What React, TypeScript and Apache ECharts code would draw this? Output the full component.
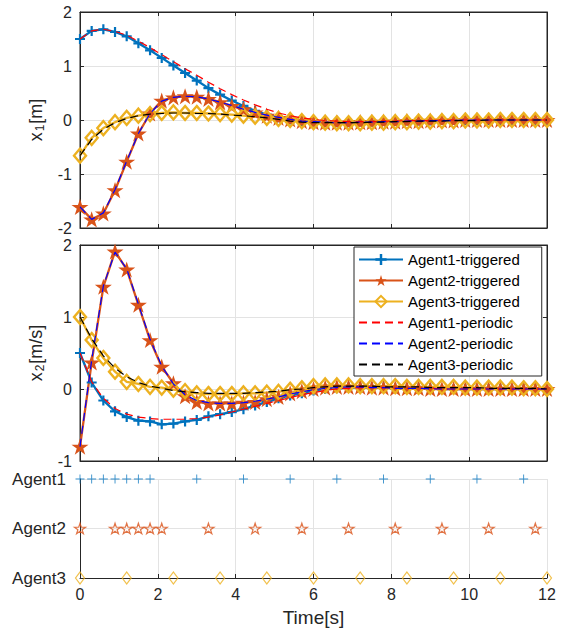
import React, { useEffect, useRef } from 'react';
import * as echarts from 'echarts';

const time = [0, 0.3, 0.6, 0.9, 1.2, 1.5, 1.8, 2.1, 2.4, 2.7, 3.0, 3.3, 3.6, 3.9, 4.2, 4.5, 4.8, 5.1, 5.4, 5.7, 6.0, 6.3, 6.6, 6.9, 7.2, 7.5, 7.8, 8.1, 8.4, 8.7, 9.0, 9.3, 9.6, 9.9, 10.2, 10.5, 10.8, 11.1, 11.4, 11.7, 12.0];

const a1x1Trig = [1.50, 1.65, 1.68, 1.63, 1.55, 1.42, 1.29, 1.15, 1.01, 0.87, 0.73, 0.59, 0.47, 0.36, 0.26, 0.17, 0.10, 0.05, 0.01, -0.02, -0.03, -0.04, -0.04, -0.04, -0.03, -0.03, -0.02, -0.02, -0.01, -0.01, -0.01, 0, 0, 0, 0, 0, 0, 0, 0, 0, 0];
const a2x1Trig = [-1.61, -1.84, -1.73, -1.30, -0.77, -0.25, 0.12, 0.36, 0.42, 0.44, 0.43, 0.39, 0.33, 0.26, 0.20, 0.14, 0.08, 0.04, 0.01, -0.02, -0.04, -0.05, -0.05, -0.05, -0.04, -0.04, -0.03, -0.03, -0.02, -0.02, -0.01, -0.01, -0.01, 0, 0, 0, 0, 0, 0, 0, 0];
const a3x1Trig = [-0.66, -0.33, -0.15, -0.04, 0.04, 0.08, 0.11, 0.13, 0.14, 0.13, 0.13, 0.12, 0.11, 0.10, 0.08, 0.06, 0.04, 0.02, 0.00, -0.02, -0.04, -0.05, -0.06, -0.06, -0.06, -0.05, -0.05, -0.04, -0.04, -0.03, -0.03, -0.02, -0.02, -0.01, -0.01, -0.01, 0, 0, 0, 0, 0];
const a1x1Per = [1.50, 1.65, 1.68, 1.64, 1.57, 1.46, 1.34, 1.21, 1.08, 0.95, 0.83, 0.70, 0.58, 0.47, 0.37, 0.28, 0.20, 0.13, 0.08, 0.04, 0.01, -0.01, -0.02, -0.03, -0.03, -0.03, -0.02, -0.02, -0.01, -0.01, -0.01, 0, 0, 0, 0, 0, 0, 0, 0, 0, 0];
const a2x1Per = [-1.61, -1.84, -1.72, -1.29, -0.76, -0.25, 0.12, 0.35, 0.42, 0.44, 0.43, 0.39, 0.33, 0.27, 0.20, 0.14, 0.09, 0.05, 0.01, -0.02, -0.03, -0.04, -0.05, -0.05, -0.04, -0.04, -0.03, -0.03, -0.02, -0.02, -0.01, -0.01, -0.01, 0, 0, 0, 0, 0, 0, 0, 0];
const a3x1Per = [-0.66, -0.36, -0.17, -0.05, 0.03, 0.08, 0.11, 0.12, 0.13, 0.13, 0.12, 0.12, 0.11, 0.09, 0.08, 0.06, 0.04, 0.01, -0.02, -0.04, -0.05, -0.05, -0.05, -0.05, -0.05, -0.04, -0.04, -0.03, -0.03, -0.02, -0.02, -0.02, -0.01, -0.01, -0.01, 0, 0, 0, 0, 0, 0];

const a1x2Trig = [0.50, 0.09, -0.16, -0.31, -0.39, -0.44, -0.45, -0.49, -0.48, -0.45, -0.43, -0.38, -0.35, -0.32, -0.28, -0.23, -0.18, -0.13, -0.09, -0.06, -0.02, 0.00, 0.01, 0.02, 0.02, 0.02, 0.02, 0.01, 0.01, 0.01, 0.01, 0, 0, 0, 0, 0, 0, 0, 0, 0, 0];
const a2x2Trig = [-0.80, 0.37, 1.42, 1.91, 1.66, 1.17, 0.68, 0.31, 0.08, -0.10, -0.18, -0.20, -0.20, -0.20, -0.19, -0.18, -0.14, -0.11, -0.06, -0.03, 0.00, 0.02, 0.03, 0.03, 0.03, 0.02, 0.02, 0.01, 0.01, 0.01, 0, 0, 0, 0, 0, 0, 0, 0, 0, 0, 0];
const a3x2Trig = [1.00, 0.68, 0.43, 0.24, 0.10, 0.07, 0.03, 0.02, -0.01, -0.03, -0.06, -0.07, -0.07, -0.07, -0.06, -0.06, -0.05, -0.04, -0.01, 0.01, 0.04, 0.05, 0.05, 0.05, 0.04, 0.04, 0.04, 0.04, 0.03, 0.03, 0.03, 0.03, 0.03, 0.02, 0.02, 0.02, 0.02, 0.02, 0.01, 0.01, 0.00];
const a1x2Per = [0.50, 0.10, -0.13, -0.27, -0.35, -0.39, -0.41, -0.42, -0.42, -0.42, -0.41, -0.39, -0.36, -0.32, -0.28, -0.24, -0.20, -0.16, -0.12, -0.08, -0.05, -0.02, 0.00, 0.01, 0.02, 0.02, 0.02, 0.01, 0.01, 0.01, 0.01, 0, 0, 0, 0, 0, 0, 0, 0, 0, 0];
const a2x2Per = [-0.80, 0.40, 1.43, 1.90, 1.67, 1.18, 0.69, 0.32, 0.07, -0.08, -0.16, -0.19, -0.20, -0.20, -0.19, -0.17, -0.14, -0.11, -0.07, -0.04, -0.01, 0.01, 0.02, 0.03, 0.03, 0.02, 0.02, 0.01, 0.01, 0.01, 0, 0, 0, 0, 0, 0, 0, 0, 0, 0, 0];
const a3x2Per = [1.00, 0.70, 0.46, 0.29, 0.17, 0.09, 0.04, 0.01, -0.02, -0.04, -0.05, -0.06, -0.06, -0.06, -0.06, -0.05, -0.04, -0.03, -0.01, 0.00, 0.02, 0.03, 0.04, 0.04, 0.04, 0.04, 0.03, 0.03, 0.03, 0.03, 0.02, 0.02, 0.02, 0.02, 0.02, 0.01, 0.01, 0.01, 0.01, 0.01, 0.00];

const agent1Events = [0, 0.3, 0.6, 0.9, 1.2, 1.5, 1.8, 3.0, 4.2, 5.4, 6.6, 7.8, 9.0, 10.2, 11.4];
const agent2Events = [0, 0.9, 1.2, 1.5, 1.8, 2.1, 3.3, 4.5, 5.7, 6.9, 8.1, 9.3, 10.5, 11.7];
const agent3Events = [0, 1.2, 2.4, 3.6, 4.8, 6.0, 7.2, 8.4, 9.6, 10.8, 12.0];
const agentLabels = ['Agent1', 'Agent2', 'Agent3'];

const legendNames = ['Agent1-triggered', 'Agent2-triggered', 'Agent3-triggered', 'Agent1-periodic', 'Agent2-periodic', 'Agent3-periodic'];

const C1 = '#0072BD';
const C2 = '#D95319';
const C3 = '#EDB120';
const TXT = '#262626';
const GRIDC = '#e3e3e3';
const FONT = '"Liberation Sans", Arial, Helvetica, sans-serif';
const DASH = [8, 5];

const PLUS_BOLD = 'path://M3.9,0H6.1V3.9H10V6.1H6.1V10H3.9V6.1H0V3.9H3.9Z';
const PLUS_THIN = 'path://M4.5,0H5.5V4.5H10V5.5H5.5V10H4.5V5.5H0V4.5H4.5Z';
const STAR = 'path://M50,0L61.23,34.55L97.55,34.55L68.17,55.9L79.39,90.45L50,69.1L20.61,90.45L31.83,55.9L2.45,34.55L38.77,34.55Z';

const pair = (arr: number[]) => time.map((t, i) => [t, arr[i]]);

export default function App() {
  const ref = useRef<HTMLDivElement>(null);
  useEffect(() => {
    if (!ref.current) return;
    const chart = echarts.init(ref.current, undefined, { renderer: 'svg' });

    const grids = [
      { left: 80, top: 12, width: 467, height: 216 },
      { left: 80, top: 245, width: 467, height: 216 },
      { left: 80, top: 479, width: 467, height: 99 },
    ];

    const boxX = (gi: number, pos: 'bottom' | 'top', withSplit: boolean) => ({
      type: 'value', gridIndex: gi, position: pos, min: 0, max: 12, interval: 2,
      axisLine: { show: true, onZero: false, lineStyle: { color: TXT, width: 1 } },
      axisTick: { show: true, inside: true, length: 4, lineStyle: { color: TXT } },
      axisLabel: { show: false },
      splitLine: { show: withSplit, lineStyle: { color: GRIDC, width: 1 } },
    });
    const boxY = (gi: number, pos: 'left' | 'right', min: number, max: number, withLabel: boolean, name?: string) => ({
      type: 'value', gridIndex: gi, position: pos, min, max, interval: 1,
      axisLine: { show: true, onZero: false, lineStyle: { color: TXT, width: 1 } },
      axisTick: { show: true, inside: true, length: 4, lineStyle: { color: TXT } },
      axisLabel: { show: withLabel, color: TXT, fontSize: 16, fontFamily: FONT, margin: 8 },
      splitLine: { show: withLabel, lineStyle: { color: GRIDC, width: 1 } },
      name: name || '',
      nameLocation: 'middle',
      nameGap: 34,
      nameRotate: 90,
      nameTextStyle: {
        color: TXT, fontSize: 18, fontFamily: FONT,
        rich: {
          a: { color: TXT, fontSize: 18, fontFamily: FONT, lineHeight: 21 },
          s: { color: TXT, fontSize: 12, fontFamily: FONT, lineHeight: 21, verticalAlign: 'bottom', padding: [0, 1, 0, 1] },
        },
      },
    });

    const trig = (name: string, arr: number[], xi: number, yi: number, color: string, kind: number) => {
      const base: any = {
        name, type: 'line', xAxisIndex: xi, yAxisIndex: yi, data: pair(arr),
        lineStyle: { color, width: 2.3 }, showSymbol: true, symbolKeepAspect: true, z: 2,
        emphasis: { disabled: true },
      };
      if (kind === 1) {
        base.symbol = PLUS_BOLD; base.symbolSize = 10;
        base.itemStyle = { color, borderWidth: 0 };
      } else if (kind === 2) {
        base.symbol = STAR; base.symbolSize = 17;
        base.itemStyle = { color, borderWidth: 0 };
      } else {
        base.symbol = 'diamond'; base.symbolSize = [12, 14];
        base.symbolKeepAspect = false;
        base.itemStyle = { color: 'rgba(255,255,255,0)', borderColor: color, borderWidth: 2.4 };
      }
      return base;
    };
    const per = (name: string, arr: number[], xi: number, yi: number, color: string) => ({
      name, type: 'line', xAxisIndex: xi, yAxisIndex: yi, data: pair(arr),
      symbol: 'none', showSymbol: false,
      lineStyle: { color, width: 1.2, type: DASH },
      itemStyle: { color },
      z: 3, emphasis: { disabled: true },
    });

    const events = (name: string, ev: number[], row: number, symbol: string, size: any, color: string, hollow: boolean) => ({
      name, type: 'scatter', xAxisIndex: 4, yAxisIndex: 4,
      data: ev.map((t) => [t, row]),
      symbol, symbolSize: size, symbolKeepAspect: true,
      itemStyle: hollow
        ? { color: 'rgba(255,255,255,0)', borderColor: color, borderWidth: 1.2 }
        : { color, borderWidth: 0 },
      z: 4, emphasis: { disabled: true },
    });

    const legendData = legendNames.map((n, i) =>
      i < 3 ? { name: n } : { name: n, itemStyle: { opacity: 0 } }
    );

    const option: any = {
      animation: false,
      backgroundColor: '#ffffff',
      textStyle: { fontFamily: FONT },
      grid: grids.map((g, i) => ({ ...g, show: i < 2, borderColor: TXT, borderWidth: 1, backgroundColor: 'transparent' })),
      legend: {
        orient: 'vertical', left: 354, top: 247,
        itemWidth: 44, itemHeight: 14, itemGap: 6,
        padding: [5, 22, 4, 4],
        borderColor: TXT, borderWidth: 1, backgroundColor: '#ffffff',
        textStyle: { fontSize: 15, color: '#000', fontFamily: FONT },
        selectedMode: false,
        data: legendData,
        z: 10,
      },
      xAxis: [
        boxX(0, 'bottom', true),
        boxX(0, 'top', false),
        boxX(1, 'bottom', true),
        boxX(1, 'top', false),
        {
          type: 'value', gridIndex: 2, position: 'bottom', min: 0, max: 12, interval: 2,
          axisLine: { show: true, onZero: false, lineStyle: { color: TXT, width: 1 } },
          axisTick: { show: true, inside: true, length: 4, lineStyle: { color: TXT } },
          axisLabel: { show: true, color: TXT, fontSize: 16, fontFamily: FONT, margin: 8 },
          splitLine: { show: true, lineStyle: { color: GRIDC, width: 1 } },
          name: 'Time[s]', nameLocation: 'middle', nameGap: 30,
          nameTextStyle: { color: TXT, fontSize: 19, fontFamily: FONT },
        },
      ],
      yAxis: [
        boxY(0, 'left', -2, 2, true, '{a|x}{s|1}{a|[m]}'),
        boxY(0, 'right', -2, 2, false),
        boxY(1, 'left', -1, 2, true, '{a|x}{s|2}{a|[m/s]}'),
        boxY(1, 'right', -1, 2, false),
        {
          type: 'value', gridIndex: 2, min: 1, max: 3, interval: 1, inverse: true,
          axisLine: { show: true, onZero: false, lineStyle: { color: TXT, width: 1 } },
          axisTick: { show: false },
          axisLabel: {
            show: true, color: TXT, fontSize: 17, fontFamily: FONT, margin: 14,
            formatter: (v: number) => agentLabels[Math.round(v) - 1] || '',
          },
          splitLine: { show: true, lineStyle: { color: GRIDC, width: 1 } },
        },
      ],
      series: [
        trig('Agent1-triggered', a1x1Trig, 0, 0, C1, 1),
        trig('Agent2-triggered', a2x1Trig, 0, 0, C2, 2),
        trig('Agent3-triggered', a3x1Trig, 0, 0, C3, 3),
        per('Agent1-periodic', a1x1Per, 0, 0, '#FF0000'),
        per('Agent2-periodic', a2x1Per, 0, 0, '#0000FF'),
        per('Agent3-periodic', a3x1Per, 0, 0, '#000000'),
        trig('Agent1-triggered', a1x2Trig, 2, 2, C1, 1),
        trig('Agent2-triggered', a2x2Trig, 2, 2, C2, 2),
        trig('Agent3-triggered', a3x2Trig, 2, 2, C3, 3),
        per('Agent1-periodic', a1x2Per, 2, 2, '#FF0000'),
        per('Agent2-periodic', a2x2Per, 2, 2, '#0000FF'),
        per('Agent3-periodic', a3x2Per, 2, 2, '#000000'),
        events('ev1', agent1Events, 1, PLUS_THIN, 9, C1, false),
        events('ev2', agent2Events, 2, STAR, 11, C2, true),
        events('ev3', agent3Events, 3, 'diamond', [9, 12], C3, true),
      ],
    };
    option.series[14].symbolKeepAspect = false;
    chart.setOption(option);
    return () => chart.dispose();
  }, []);
  return (
    <div
      ref={ref}
      style={{ position: 'fixed', left: 0, top: 0, width: 564, height: 633, background: '#fff' }}
    />
  );
}
